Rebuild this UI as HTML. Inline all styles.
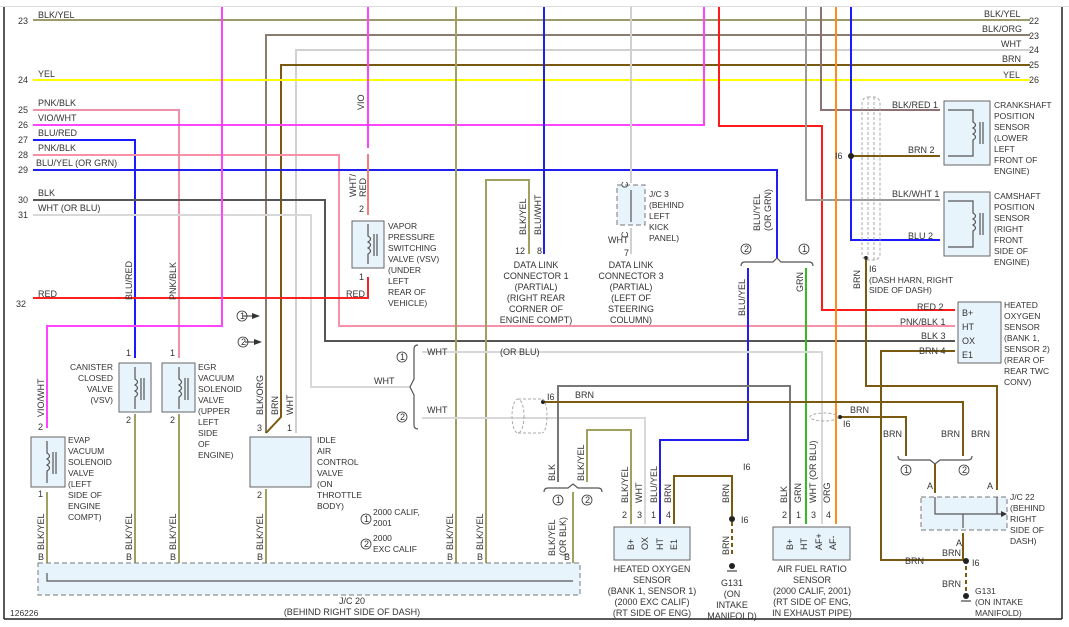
<!DOCTYPE html>
<html><head><meta charset="utf-8"><style>
html,body{margin:0;padding:0;background:#fff;}
svg{display:block;}
text{font-family:"Liberation Sans",sans-serif;font-size:9px;fill:#333;}
.s{font-size:8.5px}
</style></head><body>
<svg width="1069" height="627" viewBox="0 0 1069 627" xmlns="http://www.w3.org/2000/svg">
<g fill="none" stroke-width="2">
<line x1="0" y1="6.5" x2="1069" y2="6.5" stroke="#ddd" stroke-width="1"/>
<line x1="4" y1="7" x2="4" y2="619" stroke="#222" stroke-width="1.5"/>
<line x1="1062" y1="7" x2="1062" y2="619" stroke="#222" stroke-width="1.5"/>
<line x1="4" y1="619" x2="1062" y2="619" stroke="#222" stroke-width="1.5"/>
<line x1="33" y1="20" x2="1030" y2="20" stroke="#9a9a6a"/>
<polyline points="266,433 266,35 1030,35" stroke="#8a7c6e"/>
<polyline points="296,433 296,50 1030,50" stroke="#d0d0d0"/>
<polyline points="1030,65 281,65 281,417 266,433" stroke="#7a5a10"/>
<line x1="33" y1="80" x2="1030" y2="80" stroke="#ffff00"/>
<polyline points="33,110 179,110 179,358" stroke="#f090a8"/>
<polyline points="33,125 704,125 704,7" stroke="#ff44ff"/>
<polyline points="33,140 135,140 135,358" stroke="#1a1aff"/>
<polyline points="33,155 339,155 339,326 955,326" stroke="#f890a8"/>
<polyline points="33,170 777,170 777,258" stroke="#2020ee"/>
<polyline points="33,200 325,200 325,341 955,341" stroke="#555"/>
<polyline points="33,215 311,215 311,387 410,387" stroke="#d8d8d8"/>
<polyline points="33,298 368,298 368,277" stroke="#ff2020"/>
<polyline points="222,7 222,326 47,326 47,428" stroke="#ff44ff"/>
<line x1="368" y1="7" x2="368" y2="148" stroke="#ff44ff"/>
<line x1="368" y1="154" x2="368" y2="215" stroke="#f08080"/>
<line x1="456" y1="7" x2="456" y2="565" stroke="#a0a060"/>
<polyline points="486,565 486,180 529,180 529,254" stroke="#a0a060"/>
<line x1="544" y1="7" x2="544" y2="254" stroke="#2020ee"/>
<line x1="631" y1="7" x2="631" y2="183" stroke="#d0d0d0"/>
<line x1="631" y1="228" x2="631" y2="254" stroke="#d0d0d0"/>
<polyline points="719,7 719,126 822,126 822,310 955,310" stroke="#ff1a1a"/>
<polyline points="806,7 806,200 940,200" stroke="#999"/>
<polyline points="821,7 821,110 940,110" stroke="#8c7272"/>
<line x1="836" y1="7" x2="836" y2="524" stroke="#ff8c1a"/>
<polyline points="851,7 851,240 940,240" stroke="#1a1aff"/>
<line x1="851" y1="156" x2="940" y2="156" stroke="#7a5a10"/>
<polyline points="866,260 866,386 997,386 997,490" stroke="#7a5a10"/>
<polyline points="955,351 881,351 881,560 966,560" stroke="#7a5a10"/>
<polyline points="748,268 748,440 660,440 660,524" stroke="#2020ee"/>
<line x1="806" y1="268" x2="806" y2="524" stroke="#33bb22"/>
<polyline points="422,352 822,352 822,524" stroke="#d8d8d8"/>
<polyline points="422,418 645,418 645,524" stroke="#d8d8d8"/>
<polyline points="790,524 790,386 558,386 558,482" stroke="#777"/>
<polyline points="587,482 587,430 631,430 631,524" stroke="#a0a060"/>
<line x1="573" y1="492" x2="573" y2="565" stroke="#a0a060"/>
<polyline points="674,524 674,476 732,476 732,516" stroke="#7a5a10"/>
<polyline points="543,402 963,402 963,456" stroke="#7a5a10"/>
<polyline points="840,417 906,417 906,456" stroke="#7a5a10"/>
<line x1="935" y1="464" x2="935" y2="493" stroke="#7a5a10"/>
<line x1="963" y1="533" x2="963" y2="560" stroke="#7a5a10"/>
<line x1="47" y1="492" x2="47" y2="565" stroke="#a0a060"/>
<line x1="135" y1="414" x2="135" y2="565" stroke="#a0a060"/>
<line x1="179" y1="414" x2="179" y2="565" stroke="#a0a060"/>
<line x1="266" y1="489" x2="266" y2="565" stroke="#a0a060"/>
</g>
<g stroke="#7a5a10" stroke-width="2" stroke-dasharray="4,3" fill="none">
<line x1="732" y1="522" x2="732" y2="556"/>
<line x1="966" y1="566" x2="966" y2="594"/>
</g>
<g fill="#222"><circle cx="732" cy="519" r="3"/><circle cx="966" cy="561" r="3"/>
<circle cx="732" cy="566" r="3"/><circle cx="966" cy="596" r="3"/>
<circle cx="851" cy="156" r="3"/><circle cx="866" cy="258" r="2"/>
<circle cx="543" cy="402" r="2"/><circle cx="840" cy="417" r="2"/>
<circle cx="631" cy="207" r="2"/></g>
<g stroke="#222" stroke-width="1"><line x1="727" y1="571" x2="737" y2="571"/><line x1="961" y1="601" x2="971" y2="601"/></g>
<g fill="none" stroke="#aaa" stroke-width="1" stroke-dasharray="3,2">
<rect x="862" y="97" width="18" height="163" rx="6"/>
<line x1="868" y1="97" x2="868" y2="260"/><line x1="874" y1="97" x2="874" y2="260"/>
<path d="M518,399 h24 M518,433 h24"/>
<ellipse cx="518" cy="416" rx="6" ry="17"/>
<path d="M542,399 a5,17 0 0 1 0,34"/>
<ellipse cx="824" cy="417" rx="14" ry="4"/>
</g>
<g fill="#e8f4fc" stroke="#666" stroke-width="1">
<rect x="31" y="437" width="34" height="50"/>
<rect x="119" y="363" width="32" height="49"/>
<rect x="162" y="363" width="33" height="49"/>
<rect x="250" y="437" width="61" height="50"/>
<rect x="352" y="221" width="32" height="47"/>
<rect x="944" y="101" width="46" height="64"/>
<rect x="944" y="192" width="46" height="64"/>
<rect x="958" y="302" width="43" height="61"/>
<rect x="614" y="527" width="76" height="33"/>
<rect x="773" y="527" width="77" height="33"/>
</g>
<g fill="#e8f4fc" stroke="#777" stroke-width="1" stroke-dasharray="5,3">
<rect x="38" y="563" width="542" height="32"/>
<rect x="921" y="497" width="86" height="33"/>
<rect x="617" y="185" width="28" height="40"/>
</g>
<g fill="none" stroke="#555" stroke-width="1.2">
<polyline points="47,573 47,581 573,581"/>
<polyline points="935,497 935,514 1001,514"/><line x1="963" y1="514" x2="963" y2="528"/><line x1="997" y1="497" x2="997" y2="514"/>
<line x1="631" y1="190" x2="631" y2="222"/>
<path d="M47,441 v12 q5,3 0,6 q5,3 0,6 q5,3 0,6 v12 M53,452 v22 M56,452 v22"/>
<path d="M135,367 v12 q5,3 0,6 q5,3 0,6 q5,3 0,6 v12 M141,378 v22 M144,378 v22"/>
<path d="M179,367 v12 q5,3 0,6 q5,3 0,6 q5,3 0,6 v12 M185,378 v22 M188,378 v22"/>
<path d="M368,224 v12 q5,3 0,6 q5,3 0,6 q5,3 0,6 v10 M374,234 v22 M377,234 v22"/>
<path d="M948,110 h25 v12 q5,3 0,6 q5,3 0,6 q5,3 0,6 v16 h-25 M980,122 v22 M983,122 v22"/>
<path d="M948,201 h25 v12 q5,3 0,6 q5,3 0,6 q5,3 0,6 v16 h-25 M980,213 v22 M983,213 v22"/>
<path d="M741,266 q0,-4 4,-4 h28 l4,-4 l4,4 h28 q4,0 4,4"/>
<path d="M544,492 q0,-4 4,-4 h20 l5,-4 l5,4 h20 q4,0 4,4"/>
<path d="M898,456 q0,4 4,4 h28 l5,4 l5,-4 h28 q4,0 4,-4"/>
<path d="M418,345 q-4,0 -4,4 v30 l-4,8 l4,8 v30 q0,4 4,4"/>
</g>
<g fill="#333"><path d="M252,313 l8,3 l-8,3z"/><path d="M254,339 l8,3 l-8,3z"/><path d="M1001,511 l6,3 l-6,3z"/></g>
<g stroke="#333" stroke-width="1"><line x1="243" y1="316" x2="254" y2="316"/><line x1="245" y1="342" x2="256" y2="342"/></g>

<text x="18" y="24">23</text><text x="38" y="18">BLK/YEL</text>
<text x="18" y="83">24</text><text x="38" y="77">YEL</text>
<text x="18" y="113">25</text><text x="38" y="106">PNK/BLK</text>
<text x="18" y="128">26</text><text x="38" y="121">VIO/WHT</text>
<text x="18" y="143">27</text><text x="38" y="136">BLU/RED</text>
<text x="18" y="158">28</text><text x="38" y="151">PNK/BLK</text>
<text x="18" y="173">29</text><text x="36" y="166">BLU/YEL (OR GRN)</text>
<text x="18" y="203">30</text><text x="38" y="196">BLK</text>
<text x="18" y="218">31</text><text x="38" y="211">WHT   (OR BLU)</text>
<text x="16" y="307">32</text><text x="38" y="297">RED</text>
<text x="346" y="297">RED</text>
<text x="1029" y="24">22</text><text x="984" y="17">BLK/YEL</text>
<text x="1029" y="39">23</text><text x="982" y="32">BLK/ORG</text>
<text x="1029" y="53">24</text><text x="1001" y="47">WHT</text>
<text x="1029" y="68">25</text><text x="1002" y="62">BRN</text>
<text x="1029" y="83">26</text><text x="1003" y="78">YEL</text>

<text x="892" y="108">BLK/RED 1</text><text x="908" y="153">BRN  2</text>
<text x="892" y="197">BLK/WHT 1</text><text x="908" y="239">BLU  2</text>
<text x="835" y="159">I6</text>
<text x="994" y="108" class="s">CRANKSHAFT</text><text x="994" y="119" class="s">POSITION</text><text x="994" y="130" class="s">SENSOR</text><text x="994" y="141" class="s">(LOWER</text><text x="994" y="152" class="s">LEFT</text><text x="994" y="163" class="s">FRONT OF</text><text x="994" y="174" class="s">ENGINE)</text>
<text x="994" y="199" class="s">CAMSHAFT</text><text x="994" y="210" class="s">POSITION</text><text x="994" y="221" class="s">SENSOR</text><text x="994" y="232" class="s">(RIGHT</text><text x="994" y="243" class="s">FRONT</text><text x="994" y="254" class="s">SIDE OF</text><text x="994" y="265" class="s">ENGINE)</text>
<text x="869" y="272">I6</text><text x="869" y="283" class="s">(DASH HARN, RIGHT</text><text x="869" y="293" class="s">SIDE OF DASH)</text>
<text x="917" y="310">RED  2</text><text x="900" y="325">PNK/BLK  1</text><text x="921" y="339">BLK  3</text><text x="919" y="354">BRN  4</text>
<text x="962" y="316">B+</text><text x="962" y="330">HT</text><text x="962" y="344">OX</text><text x="962" y="358">E1</text>
<text x="1004" y="308" class="s">HEATED</text><text x="1004" y="319" class="s">OXYGEN</text><text x="1004" y="330" class="s">SENSOR</text><text x="1004" y="341" class="s">(BANK 1,</text><text x="1004" y="352" class="s">SENSOR 2)</text><text x="1004" y="363" class="s">(REAR OF</text><text x="1004" y="374" class="s">REAR TWC</text><text x="1004" y="385" class="s">CONV)</text>

<text x="883" y="437">BRN</text><text x="941" y="437">BRN</text><text x="971" y="437">BRN</text>
<text x="850" y="413">BRN</text><text x="843" y="427">I6</text>
<text x="575" y="398">BRN</text><text x="547" y="400">I6</text>
<text x="427" y="355">WHT</text><text x="500" y="355">(OR BLU)</text>
<text x="374" y="384">WHT</text><text x="427" y="413">WHT</text>
<text x="927" y="489">A</text><text x="987" y="489">A</text>
<text x="1010" y="500" class="s">J/C 22</text><text x="1010" y="511" class="s">(BEHIND</text><text x="1010" y="522" class="s">RIGHT</text><text x="1010" y="533" class="s">SIDE OF</text><text x="1010" y="544" class="s">DASH)</text>
<text x="956" y="546">A</text><text x="942" y="556">BRN</text><text x="905" y="564">BRN</text><text x="972" y="566">I6</text>
<text x="942" y="587">BRN</text>
<text x="975" y="594" class="s">G131</text><text x="975" y="605" class="s">(ON INTAKE</text><text x="975" y="616" class="s">MANIFOLD)</text>

<g fill="none" stroke="#333" stroke-width="0.8">
<circle cx="746" cy="249" r="5"/><circle cx="804" cy="249" r="5"/>
<circle cx="558" cy="500" r="5"/><circle cx="587" cy="500" r="5"/>
<circle cx="906" cy="470" r="5"/><circle cx="964" cy="470" r="5"/>
<circle cx="242" cy="316" r="5"/><circle cx="243" cy="342" r="5"/>
<circle cx="402" cy="357" r="5"/><circle cx="402" cy="417" r="5"/>
<circle cx="366" cy="519" r="5"/><circle cx="366" cy="544" r="5"/>
</g>
<g><text x="744" y="252" font-size="7">2</text><text x="802" y="252" font-size="7">1</text>
<text x="556" y="503" font-size="7">1</text><text x="585" y="503" font-size="7">2</text>
<text x="904" y="473" font-size="7">1</text><text x="962" y="473" font-size="7">2</text>
<text x="240" y="319" font-size="7">1</text><text x="241" y="345" font-size="7">2</text>
<text x="400" y="360" font-size="7">1</text><text x="400" y="420" font-size="7">2</text>
<text x="364" y="522" font-size="7">1</text><text x="364" y="547" font-size="7">2</text></g>
<text x="373" y="515" class="s">2000 CALIF,</text><text x="373" y="526" class="s">2001</text>
<text x="373" y="541" class="s">2000</text><text x="373" y="552" class="s">EXC CALIF</text>

<text x="68" y="443" class="s">EVAP</text><text x="68" y="454" class="s">VACUUM</text><text x="68" y="465" class="s">SOLENOID</text><text x="68" y="476" class="s">VALVE</text><text x="68" y="487" class="s">(LEFT</text><text x="68" y="498" class="s">SIDE OF</text><text x="68" y="509" class="s">ENGINE</text><text x="68" y="520" class="s">COMPT)</text>
<text x="113" y="370" class="s" text-anchor="end">CANISTER</text><text x="113" y="381" class="s" text-anchor="end">CLOSED</text><text x="113" y="392" class="s" text-anchor="end">VALVE</text><text x="113" y="403" class="s" text-anchor="end">(VSV)</text>
<text x="198" y="370" class="s">EGR</text><text x="198" y="381" class="s">VACUUM</text><text x="198" y="392" class="s">SOLENOID</text><text x="198" y="403" class="s">VALVE</text><text x="198" y="414" class="s">(UPPER</text><text x="198" y="425" class="s">LEFT</text><text x="198" y="436" class="s">SIDE</text><text x="198" y="447" class="s">OF</text><text x="198" y="458" class="s">ENGINE)</text>
<text x="317" y="443" class="s">IDLE</text><text x="317" y="454" class="s">AIR</text><text x="317" y="465" class="s">CONTROL</text><text x="317" y="476" class="s">VALVE</text><text x="317" y="487" class="s">(ON</text><text x="317" y="498" class="s">THROTTLE</text><text x="317" y="509" class="s">BODY)</text>
<text x="388" y="229" class="s">VAPOR</text><text x="388" y="240" class="s">PRESSURE</text><text x="388" y="251" class="s">SWITCHING</text><text x="388" y="262" class="s">VALVE (VSV)</text><text x="388" y="273" class="s">(UNDER</text><text x="388" y="284" class="s">LEFT</text><text x="388" y="295" class="s">REAR OF</text><text x="388" y="306" class="s">VEHICLE)</text>
<text x="515" y="254">12</text><text x="537" y="254">8</text>
<g class="s" text-anchor="middle"><text x="536" y="268">DATA LINK</text><text x="536" y="279">CONNECTOR 1</text><text x="536" y="290">(PARTIAL)</text><text x="536" y="301">(RIGHT REAR</text><text x="536" y="312">CORNER OF</text><text x="536" y="323">ENGINE COMPT)</text>
<text x="631" y="268">DATA LINK</text><text x="631" y="279">CONNECTOR 3</text><text x="631" y="290">(PARTIAL)</text><text x="631" y="301">(LEFT OF</text><text x="631" y="312">STEERING</text><text x="631" y="323">COLUMN)</text>
<text x="652" y="572">HEATED OXYGEN</text><text x="652" y="583">SENSOR</text><text x="652" y="594">(BANK 1, SENSOR 1)</text><text x="652" y="605">(2000 EXC CALIF)</text><text x="652" y="616">(RT SIDE OF ENG)</text>
<text x="812" y="572">AIR FUEL RATIO</text><text x="812" y="583">SENSOR</text><text x="812" y="594">(2000 CALIF, 2001)</text><text x="812" y="605">(RT SIDE OF ENG,</text><text x="812" y="616">IN EXHAUST PIPE)</text>
<text x="732" y="586">G131</text><text x="732" y="597">(ON</text><text x="732" y="608">INTAKE</text><text x="732" y="619">MANIFOLD)</text>
<text x="352" y="604">J/C 20</text><text x="352" y="615">(BEHIND RIGHT SIDE OF DASH)</text></g>
<text x="10" y="616" class="s">126226</text>
<text x="649" y="197" class="s">J/C 3</text><text x="649" y="208" class="s">(BEHIND</text><text x="649" y="219" class="s">LEFT</text><text x="649" y="230" class="s">KICK</text><text x="649" y="241" class="s">PANEL)</text>
<text x="608" y="243">WHT</text><text x="624" y="256">7</text>
<text x="743" y="470">I6</text><text x="741" y="523">I6</text>

<text x="38" y="430">2</text><text x="38" y="497">1</text>
<text x="126" y="356">1</text><text x="126" y="423">2</text>
<text x="170" y="356">1</text><text x="170" y="423">2</text>
<text x="257" y="431">3</text><text x="287" y="431">1</text><text x="257" y="498">2</text>
<text x="359" y="212">2</text><text x="359" y="280">1</text>
<g font-size="8"><text x="622" y="518">2</text><text x="637" y="518">3</text><text x="651" y="518">1</text><text x="666" y="518">4</text>
<text x="782" y="518">2</text><text x="796" y="518">1</text><text x="811" y="518">3</text><text x="826" y="518">4</text></g>
<g font-size="8"><text x="38" y="560">B</text><text x="126" y="560">B</text><text x="170" y="560">B</text><text x="257" y="560">B</text><text x="447" y="560">B</text><text x="477" y="560">B</text><text x="564" y="560">B</text></g>

<g>
<text transform="translate(364,110) rotate(-90)">VIO</text>
<text transform="translate(356,197) rotate(-90)">WHT/</text><text transform="translate(366,197) rotate(-90)">RED</text>
<text transform="translate(132,300) rotate(-90)">BLU/RED</text>
<text transform="translate(176,300) rotate(-90)">PNK/BLK</text>
<text transform="translate(44,417) rotate(-90)">VIO/WHT</text>
<text transform="translate(263,415) rotate(-90)">BLK/ORG</text>
<text transform="translate(278,415) rotate(-90)">BRN</text>
<text transform="translate(293,415) rotate(-90)">WHT</text>
<text transform="translate(526,235) rotate(-90)">BLK/YEL</text>
<text transform="translate(541,235) rotate(-90)">BLU/WHT</text>
<text transform="translate(628,188) rotate(-90)" font-size="7">C</text>
<text transform="translate(628,238) rotate(-90)" font-size="7">C</text>
<text transform="translate(760,231) rotate(-90)">BLU/YEL</text><text transform="translate(771,231) rotate(-90)">(OR GRN)</text>
<text transform="translate(745,316) rotate(-90)">BLU/YEL</text>
<text transform="translate(803,292) rotate(-90)">GRN</text>
<text transform="translate(860,289) rotate(-90)">BRN</text>
<text transform="translate(44,550) rotate(-90)">BLK/YEL</text>
<text transform="translate(132,550) rotate(-90)">BLK/YEL</text>
<text transform="translate(176,550) rotate(-90)">BLK/YEL</text>
<text transform="translate(263,550) rotate(-90)">BLK/YEL</text>
<text transform="translate(453,550) rotate(-90)">BLK/YEL</text>
<text transform="translate(483,550) rotate(-90)">BLK/YEL</text>
<text transform="translate(555,556) rotate(-90)">BLK/YEL</text><text transform="translate(566,556) rotate(-90)">(OR BLK)</text>
<text transform="translate(555,481) rotate(-90)">BLK</text>
<text transform="translate(584,481) rotate(-90)">BLK/YEL</text>
<text transform="translate(628,503) rotate(-90)">BLK/YEL</text>
<text transform="translate(642,503) rotate(-90)">WHT</text>
<text transform="translate(657,503) rotate(-90)">BLU/YEL</text>
<text transform="translate(671,503) rotate(-90)">BRN</text>
<text transform="translate(729,503) rotate(-90)">BRN</text>
<text transform="translate(729,555) rotate(-90)">BRN</text>
<text transform="translate(787,503) rotate(-90)">BLK</text>
<text transform="translate(801,503) rotate(-90)">GRN</text>
<text transform="translate(816,503) rotate(-90)">WHT</text>
<text transform="translate(816,480) rotate(-90)">(OR BLU)</text>
<text transform="translate(830,503) rotate(-90)">ORG</text>
<text transform="translate(634,550) rotate(-90)">B+</text>
<text transform="translate(648,550) rotate(-90)">OX</text>
<text transform="translate(663,550) rotate(-90)">HT</text>
<text transform="translate(677,550) rotate(-90)">E1</text>
<text transform="translate(793,550) rotate(-90)">B+</text>
<text transform="translate(807,550) rotate(-90)">HT</text>
<text transform="translate(822,550) rotate(-90)">AF+</text>
<text transform="translate(836,550) rotate(-90)">AF-</text>
</g>
</svg>
</body></html>
